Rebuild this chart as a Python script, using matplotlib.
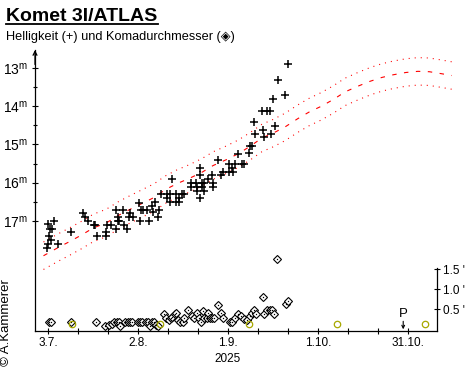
import matplotlib
matplotlib.use("Agg")
import matplotlib.pyplot as plt
from matplotlib.lines import Line2D

plt.rcParams['font.family'] = ['Liberation Sans', 'DejaVu Sans']
plt.rcParams['mathtext.fontset'] = 'custom'
plt.rcParams['mathtext.rm'] = 'Liberation Sans'
plt.rcParams['lines.scale_dashes'] = False

# brightness estimates: day of year 2025, magnitude
mag_doy = [183.5, 184.0, 184.0, 186.0, 184.6, 185.2, 184.4, 184.9, 187.2, 191.7,
           195.7, 196.4, 197.2, 199.4, 199.7, 200.2, 203.2, 203.2, 203.5, 204.9,
           206.6, 208.8, 207.3, 207.2, 207.6, 206.5, 209.4, 210.3, 210.9, 211.4,
           212.4, 214.4, 214.9, 215.7, 217.0, 214.7, 217.6, 218.5, 218.8, 220.7,
           221.0, 219.7, 221.7, 223.5, 224.6, 223.5, 224.5, 226.5, 226.5, 227.7,
           227.7, 228.6, 229.4, 225.4, 231.5, 231.5, 233.3, 233.7, 235.2, 235.2,
           236.0, 233.7, 236.0, 234.6, 234.6, 234.6, 237.4, 238.5, 239.0, 238.8,
           240.7, 241.6, 242.2, 244.4, 246.3, 245.2, 244.4, 245.5, 248.5, 249.1,
           247.2, 251.0, 251.3, 252.0, 252.9, 256.0, 258.3, 255.7, 259.4, 252.4,
           255.2, 256.8, 258.0, 259.0, 262.9, 260.4, 264.0]
mag_val = [17.71, 17.61, 17.08, 17.00, 17.21, 17.21, 17.39, 17.50, 17.61, 17.30,
           16.80, 16.91, 17.01, 17.11, 17.11, 17.40, 17.30, 17.40, 17.11, 17.11,
           16.72, 16.72, 16.91, 17.01, 17.01, 17.21, 17.11, 17.21, 16.91, 16.80,
           16.91, 16.53, 16.72, 16.72, 16.72, 17.01, 17.01, 16.61, 16.78, 16.91,
           16.72, 16.51, 16.30, 16.30, 16.30, 16.40, 16.51, 16.30, 16.51, 16.51,
           16.40, 16.30, 16.30, 15.90, 16.02, 16.12, 16.02, 16.12, 16.02, 16.12,
           16.02, 16.21, 16.21, 16.40, 15.79, 15.61, 15.90, 15.79, 16.02, 16.12,
           15.40, 15.79, 15.72, 15.51, 15.51, 15.61, 15.72, 15.72, 15.51, 15.51,
           15.26, 15.22, 15.03, 15.03, 14.72, 14.80, 14.72, 14.61, 14.51, 14.40,
           14.11, 14.11, 14.11, 13.80, 13.71, 13.30, 12.90]

# coma diameter estimates: day of year, arcmin
coma_doy = [184.4, 184.8, 191.6, 199.8, 202.9, 204.2, 205.1, 206.0, 206.9, 207.6,
            208.0, 209.6, 210.5, 211.3, 212.0, 214.0, 214.7, 215.1, 216.5, 217.3,
            218.0, 218.7, 219.3, 220.0, 220.7, 222.7, 223.3, 224.2, 224.9, 225.3,
            226.2, 226.7, 227.3, 228.0, 228.9, 229.1, 230.7, 231.8, 232.5, 233.5,
            234.2, 234.9, 235.7, 236.0, 236.8, 237.3, 237.9, 238.7, 239.3, 240.7,
            241.6, 242.2, 244.5, 245.3, 246.2, 247.1, 248.2, 249.1, 250.1, 251.2,
            251.8, 252.5, 253.1, 255.7, 256.0, 256.9, 257.8, 258.5, 259.3, 260.3,
            263.1, 264.0]
coma_val = [0.19, 0.19, 0.19, 0.18, 0.08, 0.11, 0.14, 0.18, 0.18, 0.18,
            0.09, 0.18, 0.18, 0.18, 0.18, 0.18, 0.18, 0.18, 0.18, 0.18,
            0.09, 0.18, 0.18, 0.11, 0.08, 0.38, 0.28, 0.24, 0.28, 0.31,
            0.38, 0.41, 0.24, 0.18, 0.18, 0.28, 0.48, 0.34, 0.28, 0.40,
            0.28, 0.19, 0.46, 0.28, 0.28, 0.40, 0.28, 0.28, 0.28, 0.61,
            0.40, 0.28, 0.19, 0.19, 0.28, 0.38, 0.32, 0.26, 0.22, 0.32,
            0.40, 0.47, 0.38, 0.80, 0.38, 0.47, 0.48, 0.47, 0.38, 1.75,
            0.63, 0.70]

# predicted magnitude
pred_doy = [182.4, 187.4, 191.3, 195.2, 199.0, 203.3, 207.4, 211.3, 215.7, 219.3,
            222.9, 226.8, 231.0, 235.2, 239.0, 243.3, 247.4, 251.4, 255.2, 259.0,
            262.9, 267.2, 270.9, 274.9, 279.0, 282.9, 287.2, 291.3, 295.2, 299.0,
            303.2, 307.2, 311.0, 314.9, 318.5]
pred_mag = [17.92, 17.70, 17.54, 17.37, 17.19, 17.06, 16.86, 16.70, 16.53, 16.39,
            16.19, 16.03, 15.89, 15.73, 15.55, 15.40, 15.24, 15.04, 14.83, 14.70,
            14.54, 14.32, 14.15, 14.00, 13.82, 13.62, 13.47, 13.34, 13.24, 13.17,
            13.11, 13.08, 13.09, 13.14, 13.19]
band = 0.36

full_moon = [191.86, 221.33, 250.76, 280.16, 309.55]
perihel = 302.3

xticks = [184, 214, 244, 274, 304]
xlabels = ['3.7.', '2.8.', '1.9.', '1.10.', '31.10.']
xminor = [194, 204, 224, 234, 254, 264, 284, 294]
mag_ticks = [13, 14, 15, 16, 17]
mag_minor = [13.5, 14.5, 15.5, 16.5]
coma_ticks = [0.5, 1.0, 1.5]

W, H = 470, 371
fig = plt.figure(figsize=(W / 100, H / 100), dpi=100)

x_left, x_right = 179.57, 321.23
ax = fig.add_axes([35 / W, (H - 331) / H, 425 / W, 281 / H])
ax.set_xlim(x_left, x_right)
ax.set_ylim(19.895, 12.52)
ax.patch.set_alpha(0)

# prediction with uncertainty band
ax.plot(pred_doy, pred_mag, color='#ff0000', lw=0.8, dashes=(3.2, 5.4))
ax.plot(pred_doy, [m - band for m in pred_mag], color='#ff0000', lw=0.8,
        dashes=(0.75, 3.6), dash_capstyle='butt')
ax.plot(pred_doy, [m + band for m in pred_mag], color='#ff0000', lw=0.8,
        dashes=(0.75, 3.6), dash_capstyle='butt')

ax.plot(mag_doy, mag_val, '+', color='black', ms=5.2, mew=1.1, clip_on=False)

for s in ['top', 'right']:
    ax.spines[s].set_visible(False)
ax.spines['bottom'].set_bounds(x_left, 313.57)
ax.spines['left'].set_linewidth(0.9)
ax.spines['bottom'].set_linewidth(0.9)
ax.annotate('', xy=(x_left, 12.52), xytext=(x_left, 12.9), annotation_clip=False,
            arrowprops=dict(arrowstyle='->', lw=0.9, color='black',
                            shrinkA=0, shrinkB=0, mutation_scale=7))

ax.set_xticks(xticks, labels=xlabels)
ax.set_xticks(xminor, minor=True)
ax.tick_params(axis='x', which='both', direction='inout', length=4, width=0.8,
               pad=2.5, labelsize=8.5)
ax.set_yticks(mag_ticks, labels=[r'%d$^{\mathregular{m}}$' % m for m in mag_ticks])
ax.set_yticks(mag_minor, minor=True)
ax.tick_params(axis='y', which='major', direction='inout', length=4.2, width=0.8,
               pad=3, labelsize=10)
ax.tick_params(axis='y', which='minor', direction='inout', length=2.2, width=0.8)

# coma diameter axis
ax2 = ax.twinx()
ax2.set_ylim(-0.0425, 6.98)
for s in ['top', 'left', 'bottom']:
    ax2.spines[s].set_visible(False)
ax2.spines['right'].set_position(('data', 313.57))
ax2.spines['right'].set_bounds(-0.0425, 1.52)
ax2.spines['right'].set_linewidth(0.9)
ax2.set_yticks(coma_ticks, labels=["%.1f '" % c for c in coma_ticks])
ax2.tick_params(axis='y', direction='inout', length=4, width=0.8, pad=2,
                labelsize=8.5)

ax2.plot(coma_doy, coma_val, 'D', ms=3.7, mfc='white', mec='black', mew=0.8)
ax2.plot(coma_doy, coma_val, 's', ms=0.9, mfc='black', mec='black', mew=0)
ax2.plot(full_moon, [0.12] * len(full_moon), 'o', ms=4.6, mfc='none',
         mec='#a8a800', mew=0.9)

ax2.text(perihel, 0.23, 'P', ha='center', va='bottom', fontsize=9.5)
ax2.annotate('', xy=(perihel, 0.0), xytext=(perihel, 0.2),
             arrowprops=dict(arrowstyle='->', lw=0.8, color='black',
                             shrinkA=0, shrinkB=0, mutation_scale=5))

# header and footer texts
fig.text(6 / W, 1 - 21 / H, 'Komet 3I/ATLAS', fontsize=14, fontweight='bold',
         ha='left', va='baseline')
fig.add_artist(Line2D([6 / W, 158 / W], [1 - 23.5 / H, 1 - 23.5 / H],
                      color='black', lw=1.3))
fig.text(6 / W, 1 - 37 / H, 'Helligkeit (+) und Komadurchmesser (\u25c8)',
         fontsize=9.2, ha='left', va='center')
fig.text(228 / W, 1 - 359 / H, '2025', fontsize=8.5, ha='center', va='center')
fig.text(6 / W, 1 - 323 / H, '\u00a9 A.Kammerer', rotation=90, fontsize=9.5,
         ha='center', va='center')

fig.savefig('out.png', dpi=100)
